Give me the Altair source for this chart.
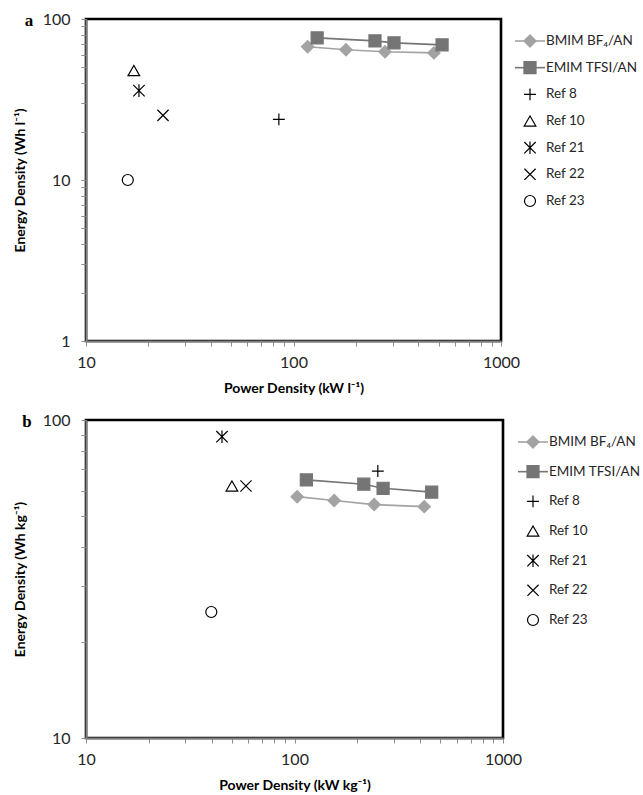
import altair as alt
import pandas as pd

FONT = "Lato"

BMIM = "BMIM BF₄/AN"
EMIM = "EMIM TFSI/AN"
ref_names = ["Ref 8", "Ref 10", "Ref 21", "Ref 22", "Ref 23"]
series_names = [BMIM, EMIM] + ref_names

# Panel a: volumetric (Power kW/l, Energy Wh/l)
a_bmim_x = [117, 179, 276, 475]
a_bmim_y = [67.2, 64.4, 62.6, 61.6]
a_emim_x = [130, 247, 305, 520]
a_emim_y = [76.3, 73.1, 71.1, 69.1]
a_ref_x = [85, 17.0, 18.0, 23.5, 15.9]
a_ref_y = [23.8, 47.8, 35.9, 25.2, 10.0]

# Panel b: gravimetric (Power kW/kg, Energy Wh/kg)
b_bmim_x = [103, 155, 241, 419]
b_bmim_y = [57.4, 55.8, 54.2, 53.4]
b_emim_x = [114, 215, 266, 455]
b_emim_y = [64.8, 62.8, 61.0, 59.3]
b_ref_x = [251, 50.1, 44.9, 58.5, 39.9]
b_ref_y = [69.1, 62.0, 88.6, 62.0, 24.9]

x_tick_values = [10, 20, 30, 40, 50, 60, 70, 80, 90,
                 100, 200, 300, 400, 500, 600, 700, 800, 900, 1000]
ya_tick_values = [1, 2, 3, 4, 5, 6, 7, 8, 9,
                  10, 20, 30, 40, 50, 60, 70, 80, 90, 100]
yb_tick_values = [10, 20, 30, 40, 50, 60, 70, 80, 90, 100]

shape_range = [
    "diamond", "square",
    "M-1,0L1,0M0,-1L0,1",
    "triangle-up",
    "M-1,-1L1,1M-1,1L1,-1M0,-1.1L0,1.1",
    "M-1,-1L1,1M-1,1L1,-1",
    "circle",
]
size_range = [150, 121, 150, 90, 80, 90, 115]
fill_range = ["#a3a3a3", "#757575", "transparent", "transparent",
              "transparent", "transparent", "transparent"]
stroke_range = ["#a3a3a3", "#757575", "#000000", "#000000",
                "#000000", "#000000", "#000000"]

shape_enc = alt.Shape("series:N", scale=alt.Scale(domain=series_names, range=shape_range), legend=None)
size_enc = alt.Size("series:O", scale=alt.Scale(domain=series_names, range=size_range), legend=None)
fill_enc = alt.Fill("series:N", scale=alt.Scale(domain=series_names, range=fill_range), legend=None)
stroke_enc = alt.Stroke("series:N", scale=alt.Scale(domain=series_names, range=stroke_range), legend=None)

label_expr = "indexof([1, 10, 100, 1000], datum.value) >= 0 ? format(datum.value, 'd') : ''"


def make_axis(values, title, is_y):
    return alt.Axis(
        values=values,
        labelExpr=label_expr,
        title=title,
        grid=False,
        labelFont=FONT,
        labelFontSize=16,
        labelColor="#262626",
        labelFlush=False,
        labelOverlap=False,
        labelPadding=11 if is_y else 8,
        titleFont=FONT,
        titleFontSize=14,
        titleFontWeight="bold",
        titleColor="#000000",
        titlePadding=15 if is_y else 11,
        domainColor="#7f7f7f",
        domainWidth=2,
        tickColor="#8c8c8c",
        tickWidth=1,
        tickSize=5,
    )


def panel(bx, by, ex, ey, rx, ry, y_dom, y_ticks, w, h, xt, yt,
          letter, letter_dx, leg_first, leg_last, leg_dx):
    line_df = pd.DataFrame({
        "series": [BMIM] * len(bx) + [EMIM] * len(ex),
        "x": bx + ex,
        "y": by + ey,
    })
    ref_df = pd.DataFrame({"series": ref_names, "x": rx, "y": ry})
    pts_df = pd.concat([line_df, ref_df], ignore_index=True)

    xs = alt.Scale(type="log", domain=[10, 1000], nice=False)
    ys = alt.Scale(type="log", domain=y_dom, nice=False)
    xa = make_axis(x_tick_values, xt, False)
    ya = make_axis(y_ticks, yt, True)

    lines = alt.Chart(line_df).mark_line(strokeWidth=1.6).encode(
        x=alt.X("x:Q", scale=xs, axis=xa),
        y=alt.Y("y:Q", scale=ys, axis=ya),
        stroke=stroke_enc,
    )
    pts = alt.Chart(pts_df).mark_point(opacity=1, strokeWidth=1.2).encode(
        x=alt.X("x:Q", scale=xs, axis=xa),
        y=alt.Y("y:Q", scale=ys, axis=ya),
        shape=shape_enc,
        size=size_enc,
        fill=fill_enc,
        stroke=stroke_enc,
    )
    lab = alt.Chart(pd.DataFrame({"t": [letter]})).mark_text(
        font="Liberation Serif", fontWeight="bold", fontSize=17,
        align="center", baseline="middle", color="#000000",
    ).encode(text="t:N", x=alt.value(letter_dx), y=alt.value(2))
    plot = alt.layer(lines, pts, lab)

    # legend (drawn to the right of the plot area)
    leg_df = pd.DataFrame({"series": series_names, "idx": list(range(len(series_names)))})
    ly = alt.Y("idx:Q", scale=alt.Scale(domain=[0, 6], range=[leg_first, leg_last]), axis=None)
    base = alt.Chart(leg_df)
    rules = base.transform_filter(
        alt.FieldOneOfPredicate(field="series", oneOf=[BMIM, EMIM])
    ).mark_rule(strokeWidth=1.6).encode(
        x=alt.value(w + leg_dx), x2=alt.value(w + leg_dx + 30), y=ly, stroke=stroke_enc,
    )
    syms = base.mark_point(opacity=1, strokeWidth=1.2).encode(
        x=alt.value(w + leg_dx + 15), y=ly, shape=shape_enc, size=size_enc,
        fill=fill_enc, stroke=stroke_enc,
    )
    txt = base.mark_text(
        align="left", baseline="middle", font=FONT, fontSize=13.5, color="#262626",
    ).encode(x=alt.value(w + leg_dx + 31), y=ly, text="series:N")
    leg = alt.layer(rules, syms, txt)

    return alt.layer(plot, leg).resolve_scale(y="independent").properties(
        width=w, height=h,
        view=alt.ViewBackground(stroke="#000000", strokeWidth=2.6),
    )


pa = panel(a_bmim_x, a_bmim_y, a_emim_x, a_emim_y, a_ref_x, a_ref_y,
           [1, 100], ya_tick_values, 415, 322,
           "Power Density (kW l⁻¹)", "Energy Density (Wh l⁻¹)", "a", -57,
           22, 182, 14)
pb = panel(b_bmim_x, b_bmim_y, b_emim_x, b_emim_y, b_ref_x, b_ref_y,
           [10, 100], yb_tick_values, 417, 318,
           "Power Density (kW kg⁻¹)", "Energy Density (Wh kg⁻¹)", "b", -59,
           22, 200, 15)

chart = alt.vconcat(pa, pb, spacing=13).properties(
    padding={"left": 11, "top": 9, "right": 0, "bottom": 0},
).configure(
    background="white",
).configure_view(
    stroke="#000000", strokeWidth=2.6,
)

chart.save("out.html", embed_options={"renderer": "svg", "actions": False})
